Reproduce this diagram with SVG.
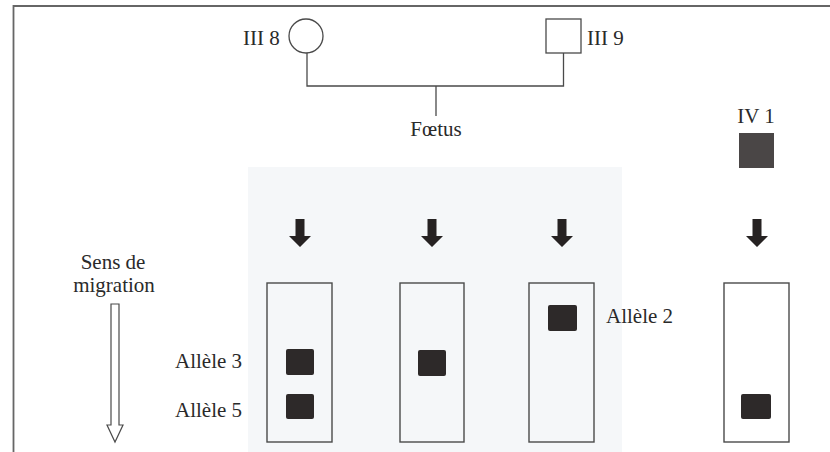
<svg xmlns="http://www.w3.org/2000/svg" width="830" height="452" viewBox="0 0 830 452">
<style>
text{font-family:'Liberation Serif','Times New Roman','DejaVu Serif',serif;font-size:21px;fill:#2a2a2a}
.ln{fill:none;stroke:#4a4a4a;stroke-width:1.3}
.lane{fill:none;stroke:#4a4a4a;stroke-width:1.4}
.band{fill:#2d2929}
.arr{fill:#262222}
</style>
<defs>
<path id="dArrow" class="arr" d="M-4.5,0 H4.5 V17 H11 L0,28 L-11,17 H-4.5 Z"/>
</defs>
<rect width="830" height="452" fill="#ffffff"/>
<rect x="248" y="167" width="374" height="285" fill="#f5f7f9"/>
<path d="M13.5,452 V6 H830" fill="none" stroke="#666" stroke-width="1.8"/>

<g id="III8">
<circle cx="306" cy="36" r="17" class="ln" fill="#fff"/>
<text x="243" y="45">III 8</text>
</g>
<g id="III9">
<rect x="546" y="19" width="35" height="34" class="ln" fill="#fff"/>
<text x="587" y="45">III 9</text>
</g>
<g id="foetus">
<text x="436" y="136" text-anchor="middle">Fœtus</text>
</g>
<g id="IV1">
<text x="756" y="123" text-anchor="middle">IV 1</text>
<rect x="739" y="133" width="35" height="35" fill="#4a4646"/>
</g>

<g id="connectors">
<path class="ln" d="M307,53 V86 H563.5 V53 M436,86 V116"/>
<use href="#dArrow" x="300" y="219"/>
<use href="#dArrow" x="432" y="219"/>
<use href="#dArrow" x="562" y="219"/>
<use href="#dArrow" x="757" y="219"/>
</g>

<g id="migration">
<text x="113" y="269" text-anchor="middle" font-size="20">Sens de</text>
<text x="114" y="292" text-anchor="middle" font-size="20">migration</text>
<path d="M111,304 H119 V425 H123 L115,442 L107,425 H111 Z" fill="#fff" stroke="#4a4a4a" stroke-width="1.2"/>
</g>

<g id="lane1">
<rect x="267" y="283" width="65" height="159" class="lane"/>
<rect x="286" y="349" width="28" height="26" rx="2" class="band"/>
<rect x="286" y="394" width="28" height="25" rx="2" class="band"/>
</g>
<g id="lane2">
<rect x="400" y="283" width="64" height="159" class="lane"/>
<rect x="418" y="350" width="28" height="26" rx="2" class="band"/>
</g>
<g id="lane3">
<rect x="529" y="283" width="65" height="159" class="lane"/>
<rect x="548" y="305" width="29" height="26" rx="2" class="band"/>
</g>
<g id="lane4">
<rect x="724" y="283" width="65" height="159" class="lane"/>
<rect x="741" y="394" width="30" height="25" rx="2" class="band"/>
</g>

<g id="labels">
<text x="606" y="323">Allèle 2</text>
<text x="175" y="368">Allèle 3</text>
<text x="175" y="417">Allèle 5</text>
</g>
</svg>
